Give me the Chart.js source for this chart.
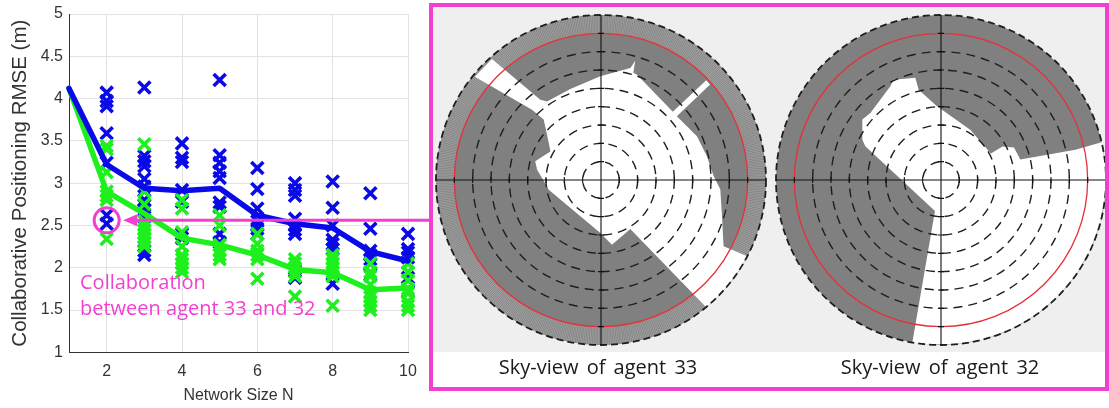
<!DOCTYPE html>
<html><head><meta charset="utf-8">
<script src="https://cdn.jsdelivr.net/npm/chart.js@4.4.1/dist/chart.umd.min.js"></script>
<style>
html,body{margin:0;padding:0;background:#fff;}
#stage{position:relative;width:1109px;height:408px;overflow:hidden;background:#fff;}
canvas{position:absolute;}
#panelBg{position:absolute;left:433px;top:7px;width:672px;height:345px;background:#efefef;}
#frame{position:absolute;left:429px;top:3px;width:680px;height:388px;box-sizing:border-box;border:4px solid #f23fd0;}
.cap{position:absolute;font-family:'Open Sans';font-size:20px;color:#1a1a1a;white-space:nowrap;transform:translateX(-50%);line-height:26px;word-spacing:3px;}
.note{position:absolute;left:80px;top:269px;font-family:'Open Sans';font-size:20px;color:#f23fd0;line-height:26px;white-space:nowrap;}
</style></head>
<body>
<div id="stage">
  <canvas id="left" width="432" height="408" style="left:0;top:0;width:432px;height:408px"></canvas>
  <div id="panelBg"></div>
  <canvas id="sky33" width="340" height="340" style="left:431px;top:10px;width:340px;height:340px"></canvas>
  <canvas id="sky32" width="340" height="340" style="left:771px;top:10px;width:340px;height:340px"></canvas>
  <div id="frame"></div>
  <div class="cap" style="left:598px;top:354px">Sky-view of agent 33</div>
  <div class="cap" style="left:940px;top:354px">Sky-view of agent 32</div>
  <div class="note">Collaboration<br>between agent 33 and 32</div>
</div>
<script>
// ---------------- data ----------------
const networkSizes = [1, 2, 3, 4, 5, 6, 7, 8, 9, 10];
const blueMean  = [4.12, 3.22, 2.94, 2.91, 2.94, 2.62, 2.52, 2.47, 2.19, 2.08];
const greenMean = [4.12, 2.90, 2.64, 2.35, 2.27, 2.15, 1.98, 1.94, 1.74, 1.76];

const runSizes = [2, 3, 4, 5, 6, 7, 8, 9, 10];
const blueRuns = [
  [4.07, 3.97, 3.91, 3.59, 3.24, 2.62, 2.52],
  [4.13, 3.32, 3.26, 3.20, 3.05, 2.96, 2.80, 2.74, 2.68, 2.60, 2.20, 2.15],
  [3.47, 3.30, 3.25, 2.92, 2.78, 2.40, 2.35],
  [4.22, 3.33, 3.24, 3.14, 3.06, 2.77, 2.72, 2.40, 2.30],
  [3.18, 2.93, 2.70, 2.55, 2.50, 2.46, 2.40],
  [3.00, 2.92, 2.85, 2.58, 2.50, 2.45, 2.40, 1.96, 1.88],
  [3.02, 2.71, 2.50, 2.33, 2.28, 2.22, 1.81],
  [2.88, 2.46, 2.20, 2.15, 2.10, 2.05, 1.92],
  [2.40, 2.22, 2.18, 2.12, 1.88, 1.72]
];
const greenRuns = [
  [3.44, 3.40, 3.13, 2.90, 2.85, 2.80, 2.34],
  [3.46, 2.90, 2.75, 2.55, 2.50, 2.45, 2.40, 2.35, 2.30, 2.25],
  [2.80, 2.70, 2.42, 2.25, 2.15, 2.10, 2.05, 2.00, 1.95],
  [2.62, 2.50, 2.27, 2.20, 2.15, 2.10],
  [2.40, 2.28, 2.20, 2.15, 2.10, 1.87],
  [2.10, 2.05, 2.00, 1.95, 1.90, 1.66],
  [2.15, 2.10, 2.05, 2.00, 1.95, 1.90, 1.55],
  [2.05, 1.95, 1.90, 1.80, 1.70, 1.65, 1.60, 1.55, 1.50],
  [2.05, 1.95, 1.85, 1.75, 1.70, 1.60, 1.55, 1.50]
];
const xTicks = [2, 4, 6, 8, 10];
const yTicks = [1, 1.5, 2, 2.5, 3, 3.5, 4, 4.5, 5];
const highlight = [2, 2.56];   // collaboration between agent 33 and 32

// sky-view obstruction boundaries: azimuth (deg, clockwise from north) / elevation (deg)
const sky33Az = [359.6, 14.7, 16.0, 16.8, 18.9, 46.5, 46.5, 48.8, 50.0, 65.5, 77.4, 88.1, 94.6, 106.7, 118.4, 117.5, 123, 129, 135, 140.4, 149.1, 170.4, 180.7, 259.5, 263.3, 279.1, 285.9, 299.5, 305.3, 316.5, 315.5, 309.3, 318.0, 322.9, 325.5, 341.4];
const sky33El = [33.4, 26.8, 22.4, 28.9, 29.3, 36.0, 10.9, 10.9, 36.0, 32.5, 30.8, 28.5, 24.7, 21.1, 14.0, 0, 0, 0, 0, 0, 58.9, 54.2, 61.1, 61.0, 60.3, 54.7, 52.7, 58.3, 55.1, 44.6, 36.3, 1.1, 1.1, 35.1, 38.0, 37.6];
const sky32Az = [346.1, 356.9, 30.2, 62.0, 61.5, 66.0, 75.6, 77.3, 76.8, 85, 95, 105, 115, 125, 135, 145, 155, 165, 175, 185, 190, 191, 294, 297.1, 307.5, 313.5, 331.6, 334.6, 345.9];
const sky32El = [39.3, 49.7, 58.3, 59.2, 51.8, 46.4, 45.3, 14.9, 0, 0, 0, 0, 0, 0, 0, 0, 0, 0, 0, 0, 0, 72.8, 44.8, 41.8, 35.9, 36.9, 31.9, 29.5, 32.5];
const elevRings = [80, 70, 60, 50, 40, 30, 20];
const maskElevation = 10;

// ---------------- style ----------------
const BLUE = '#0a0ae8', GREEN = '#1ef01e', MAGENTA = '#f23fd0', AXIS = '#333333';
Chart.defaults.font.family = 'Liberation Sans';

const toPts = (xs, ys) => xs.map((x, i) => ({x, y: ys[i]}));
const runPts = runs => runs.flatMap((vals, i) => vals.map(v => ({x: runSizes[i], y: v})));

const annotate = {
  id: 'annotate',
  afterDatasetsDraw(chart) {
    const {ctx, scales: {x, y}} = chart;
    const cx = x.getPixelForValue(highlight[0]), cy = y.getPixelForValue(highlight[1]);
    const r = 12.5;
    ctx.save();
    ctx.strokeStyle = MAGENTA; ctx.fillStyle = MAGENTA; ctx.lineWidth = 3;
    ctx.beginPath(); ctx.arc(cx, cy, r, 0, Math.PI * 2); ctx.stroke();
    const tip = cx + r + 4;
    ctx.beginPath(); ctx.moveTo(tip + 10, cy); ctx.lineTo(chart.width, cy); ctx.stroke();
    ctx.beginPath(); ctx.moveTo(tip, cy); ctx.lineTo(tip + 14, cy - 6); ctx.lineTo(tip + 14, cy + 6); ctx.closePath(); ctx.fill();
    ctx.restore();
  }
};

const markerStyle = c => ({pointStyle: 'crossRot', pointRadius: 8.5, pointBorderWidth: 3.6, borderWidth: 3.6,
  pointBorderColor: c, pointBackgroundColor: c, borderColor: c, backgroundColor: c, clip: false});

new Chart(document.getElementById('left'), {
  type: 'scatter',
  data: {
    datasets: [
      {label: 'blue mean', data: toPts(networkSizes, blueMean), showLine: true, borderColor: BLUE, borderWidth: 5.5,
       pointRadius: 0, borderJoinStyle: 'round', borderCapStyle: 'round', clip: false},
      {label: 'green mean', data: toPts(networkSizes, greenMean), showLine: true, borderColor: GREEN, borderWidth: 5.5,
       pointRadius: 0, borderJoinStyle: 'round', borderCapStyle: 'round', clip: false},
      Object.assign({label: 'green runs', data: runPts(greenRuns)}, markerStyle(GREEN)),
      Object.assign({label: 'blue runs', data: runPts(blueRuns)}, markerStyle(BLUE))
    ]
  },
  options: {
    responsive: false, animation: false, events: [],
    layout: {padding: {left: 0, top: 8.3, right: 24, bottom: 0}},
    plugins: {legend: {display: false}, tooltip: {enabled: false}},
    scales: {
      x: {
        type: 'linear', min: 1, max: 10,
        afterBuildTicks: s => { s.ticks = xTicks.map(v => ({value: v})); },
        afterFit: s => { s.height = 55.7; },
        grid: {color: '#e2e2e2', drawTicks: false},
        border: {display: true, color: AXIS, width: 1},
        ticks: {padding: 11, color: AXIS, maxRotation: 0, font: {size: 16, lineHeight: 1}, callback: v => String(v)},
        title: {display: true, text: 'Network Size N', color: AXIS, font: {size: 16}, padding: {top: 0, bottom: 2.4}}
      },
      y: {
        type: 'linear', min: 1, max: 5,
        afterBuildTicks: s => { s.ticks = yTicks.map(v => ({value: v})); },
        afterFit: s => { s.width = 69; },
        grid: {color: '#e2e2e2', drawTicks: false},
        border: {display: true, color: AXIS, width: 1},
        ticks: {padding: 6, color: AXIS, font: {size: 16, lineHeight: 1}, callback: v => String(v)},
        title: {display: true, text: 'Collaborative Positioning RMSE (m)', color: AXIS, font: {size: 20.5}, padding: {top: 8.4, bottom: 0}}
      }
    }
  },
  plugins: [annotate]
});

// ---------------- sky views ----------------
function skyPoints(azs, els) {
  return azs.map((a, i) => {
    const z = 90 - els[i], t = a * Math.PI / 180;
    return {x: z * Math.sin(t), y: z * Math.cos(t)};
  });
}
function skyPlugin(hatch) {
  return {
    id: 'skyGrid',
    beforeDatasetsDraw(chart) {
      const {ctx} = chart, xs = chart.scales.x, ys = chart.scales.y;
      const cx = xs.getPixelForValue(0), cy = ys.getPixelForValue(0);
      const rad = z => xs.getPixelForValue(z) - cx;
      const R = rad(90);
      ctx.save();
      ctx.fillStyle = '#808080';
      ctx.beginPath(); ctx.arc(cx, cy, R, 0, Math.PI * 2); ctx.fill();
      if (hatch) {
        const r0 = rad(90 - maskElevation);
        ctx.beginPath(); ctx.arc(cx, cy, R, 0, Math.PI * 2); ctx.arc(cx, cy, r0, 0, Math.PI * 2, true);
        ctx.fillStyle = '#a2a2a2'; ctx.fill();
        ctx.strokeStyle = '#6a6a6a'; ctx.lineWidth = 0.5;
        ctx.beginPath();
        for (let a = 0; a < 360; a += 0.6) {
          const t = a * Math.PI / 180;
          ctx.moveTo(cx + r0 * Math.sin(t), cy - r0 * Math.cos(t));
          ctx.lineTo(cx + R * Math.sin(t), cy - R * Math.cos(t));
        }
        ctx.stroke();
      }
      chart.data.datasets.forEach((ds, i) => {
        const pts = chart.getDatasetMeta(i).data;
        ctx.beginPath();
        pts.forEach((p, k) => k ? ctx.lineTo(p.x, p.y) : ctx.moveTo(p.x, p.y));
        ctx.closePath();
        ctx.fillStyle = ds.backgroundColor; ctx.fill();
      });
      ctx.restore();
    },
    afterDatasetsDraw(chart) {
      const {ctx} = chart, xs = chart.scales.x, ys = chart.scales.y;
      const cx = xs.getPixelForValue(0), cy = ys.getPixelForValue(0);
      const rad = z => xs.getPixelForValue(z) - cx;
      const R = rad(90);
      ctx.save();
      ctx.strokeStyle = '#1e1e1e'; ctx.lineWidth = 1.4; ctx.setLineDash([9, 6]);
      elevRings.forEach(e => { ctx.beginPath(); ctx.arc(cx, cy, rad(90 - e), 0, Math.PI * 2); ctx.stroke(); });
      ctx.lineWidth = 1.8; ctx.setLineDash([7, 4]);
      ctx.beginPath(); ctx.arc(cx, cy, R, 0, Math.PI * 2); ctx.stroke();
      ctx.setLineDash([]);
      ctx.strokeStyle = '#e5303a'; ctx.lineWidth = 1.3;
      ctx.beginPath(); ctx.arc(cx, cy, rad(90 - maskElevation), 0, Math.PI * 2); ctx.stroke();
      ctx.strokeStyle = '#111'; ctx.lineWidth = 1.1;
      ctx.beginPath();
      ctx.moveTo(cx - R, cy); ctx.lineTo(cx + R, cy);
      ctx.moveTo(cx, cy - R); ctx.lineTo(cx, cy + R);
      elevRings.concat([maskElevation]).forEach(e => {
        const r = rad(90 - e);
        [-1, 1].forEach(s => {
          ctx.moveTo(cx + s * r, cy - 3); ctx.lineTo(cx + s * r, cy + 3);
          ctx.moveTo(cx - 3, cy + s * r); ctx.lineTo(cx + 3, cy + s * r);
        });
      });
      ctx.stroke();
      ctx.restore();
    }
  };
}
function skyChart(id, azs, els, hatch) {
  new Chart(document.getElementById(id), {
    type: 'scatter',
    data: {datasets: [{label: 'open sky', data: skyPoints(azs, els), backgroundColor: '#ffffff',
      pointRadius: 0, showLine: false, clip: false}]},
    options: {
      responsive: false, animation: false, events: [],
      layout: {padding: 5},
      plugins: {legend: {display: false}, tooltip: {enabled: false}},
      scales: {x: {type: 'linear', min: -90, max: 90, display: false},
               y: {type: 'linear', min: -90, max: 90, display: false}}
    },
    plugins: [skyPlugin(hatch)]
  });
}
skyChart('sky33', sky33Az, sky33El, true);
skyChart('sky32', sky32Az, sky32El, false);
</script>
</body></html>
